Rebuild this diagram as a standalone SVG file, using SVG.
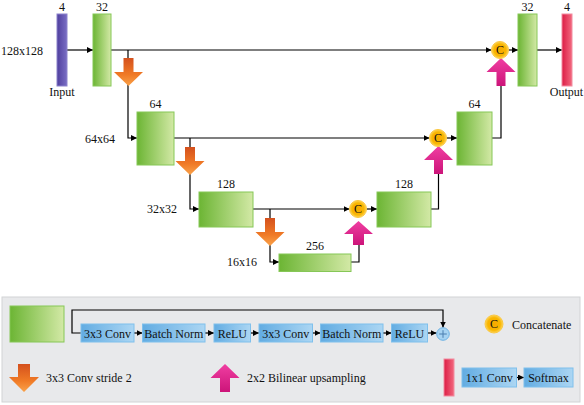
<svg xmlns="http://www.w3.org/2000/svg" width="584" height="405" viewBox="0 0 584 405" font-family="Liberation Serif, DejaVu Serif, Times New Roman, serif">
<defs>
<linearGradient id="gGreen" x1="0" y1="0" x2="1" y2="0">
<stop offset="0" stop-color="#6cb534"/><stop offset="1" stop-color="#d3e9a6"/>
</linearGradient>
<linearGradient id="gPurple" x1="0" y1="0" x2="1" y2="0">
<stop offset="0" stop-color="#4f3f9e"/><stop offset="1" stop-color="#7a6ec4"/>
</linearGradient>
<linearGradient id="gRed" x1="0" y1="0" x2="1" y2="0">
<stop offset="0" stop-color="#dc1d45"/><stop offset="1" stop-color="#f2697f"/>
</linearGradient>
<linearGradient id="gBlue" x1="0" y1="0" x2="1" y2="0">
<stop offset="0" stop-color="#62ace2"/><stop offset="1" stop-color="#acd6f3"/>
</linearGradient>
<linearGradient id="gOrange" x1="0" y1="0" x2="0" y2="1">
<stop offset="0" stop-color="#d4501d"/><stop offset="0.6" stop-color="#f07a26"/><stop offset="1" stop-color="#f9a24a"/>
</linearGradient>
<linearGradient id="gPink" x1="0" y1="0" x2="0" y2="1">
<stop offset="0" stop-color="#f03ea2"/><stop offset="1" stop-color="#cc1479"/>
</linearGradient>
<radialGradient id="gC" cx="0.5" cy="0.5" r="0.5">
<stop offset="0" stop-color="#f7a800"/><stop offset="0.7" stop-color="#f9b600"/><stop offset="1" stop-color="#fdd45a"/>
</radialGradient>
<marker id="ah" markerUnits="userSpaceOnUse" markerWidth="6" markerHeight="6" refX="6" refY="3" orient="auto">
<path d="M0,0 L6,3 L0,6 z" fill="#000"/>
</marker>
<path id="orangeArrow" d="M-5,0 H5 V14 H14.5 L0,28 L-14.5,14 H-5 Z"/>
<path id="pinkArrow" d="M0,0 L14.5,14 H4.5 V28 H-4.5 V14 H-14.5 Z"/>
</defs>
<style>
text{font-family:'Liberation Serif','DejaVu Serif','Times New Roman',serif;font-size:12px;fill:#111;}
.mid{text-anchor:middle;}
.end{text-anchor:end;}
.green{fill:url(#gGreen);stroke:#86c757;stroke-width:1;}
.blue{fill:url(#gBlue);stroke:#7fc0ec;stroke-width:1;}
.line{fill:none;stroke:#000;stroke-width:1.2;}
.arr{marker-end:url(#ah);}
.orange{fill:url(#gOrange);}
.pink{fill:url(#gPink);}
.cc{fill:url(#gC);stroke:#fbc840;stroke-width:1;}
</style>

<rect x="2" y="297" width="578" height="105" fill="#e8e9eb" stroke="#d2d3d5" stroke-width="1"/>

<g id="connectors">
<path class="line arr" d="M67,50 H93"/>
<path class="line arr" d="M111,50 H491.5"/>
<path class="line arr" d="M128,50 V138 H137"/>
<path class="line arr" d="M174,138 H429.5"/>
<path class="line arr" d="M190,138 V209 H199"/>
<path class="line arr" d="M253,209 H349.5"/>
<path class="line arr" d="M270,209 V262 H279"/>
<path class="line" d="M351,262 H359 V244"/>
<path class="line arr" d="M366.5,209 H377"/>
<path class="line" d="M431,209 H438.5 V174"/>
<path class="line arr" d="M446.5,138 H457"/>
<path class="line" d="M492,138 H501 V86"/>
<path class="line arr" d="M508.5,50 H518"/>
<path class="line arr" d="M537,50 H562"/>
<path class="line arr" d="M81,333 H72 V310 H443 V327.5"/>
<path class="line arr" d="M134,333 H142.5"/>
<path class="line arr" d="M205,333 H214"/>
<path class="line arr" d="M250.5,333 H259"/>
<path class="line arr" d="M312.5,333 H320.5"/>
<path class="line arr" d="M383,333 H391.5"/>
<path class="line arr" d="M427.5,333 H436.5"/>
<path class="line arr" d="M516.5,377.5 H524"/>
</g>

<g id="input">
<rect x="57" y="14" width="10" height="72" fill="url(#gPurple)" stroke="#8b82cc" stroke-width="1"/>
<text class="mid" x="62" y="11">4</text>
<text class="mid" x="62" y="96">Input</text>
<text x="1" y="55">128x128</text>
</g>
<g id="enc1">
<rect class="green" x="93" y="14" width="18" height="72"/>
<text class="mid" x="102" y="11">32</text>
</g>
<g id="down1"><use href="#orangeArrow" class="orange" x="128.5" y="58"/></g>
<g id="enc2">
<rect class="green" x="137" y="112" width="37" height="53"/>
<text class="mid" x="155.5" y="107.5">64</text>
<text class="end" x="115" y="142.5">64x64</text>
</g>
<g id="down2"><use href="#orangeArrow" class="orange" x="190" y="147"/></g>
<g id="enc3">
<rect class="green" x="199" y="192" width="54" height="35"/>
<text class="mid" x="226" y="187.5">128</text>
<text class="end" x="177" y="213">32x32</text>
</g>
<g id="down3"><use href="#orangeArrow" class="orange" x="270" y="218"/></g>
<g id="bottleneck">
<rect class="green" x="279" y="254" width="72" height="17.5"/>
<text class="mid" x="315" y="249.5">256</text>
<text class="end" x="257" y="266">16x16</text>
</g>
<g id="up3"><path class="pink" d="M358.5,221 L373,234 H364 V245 H353 V234 H344 Z"/></g>
<g id="cat3">
<circle class="cc" cx="358" cy="209" r="8.5"/>
<text class="mid" x="358" y="213.2">C</text>
</g>
<g id="dec3">
<rect class="green" x="377" y="192" width="54" height="35"/>
<text class="mid" x="404" y="187.5">128</text>
</g>
<g id="up2"><use href="#pinkArrow" class="pink" x="438.5" y="146"/></g>
<g id="cat2">
<circle class="cc" cx="438" cy="138" r="8.5"/>
<text class="mid" x="438" y="142.2">C</text>
</g>
<g id="dec2">
<rect class="green" x="457" y="112" width="35" height="53"/>
<text class="mid" x="474.5" y="107.5">64</text>
</g>
<g id="up1"><use href="#pinkArrow" class="pink" x="501" y="58"/></g>
<g id="cat1">
<circle class="cc" cx="500" cy="50" r="8.5"/>
<text class="mid" x="500" y="54.2">C</text>
</g>
<g id="dec1">
<rect class="green" x="518" y="14" width="19" height="72"/>
<text class="mid" x="527.5" y="11">32</text>
</g>
<g id="output">
<rect x="562" y="14" width="10" height="72" fill="url(#gRed)" stroke="#f28ca0" stroke-width="1"/>
<text class="mid" x="567" y="11">4</text>
<text class="mid" x="566.5" y="96">Output</text>
</g>

<g id="legend-block">
<rect class="green" x="10" y="306" width="54" height="36"/>
<rect class="blue" x="81" y="324" width="53" height="18"/>
<text class="mid" x="107.5" y="337.5">3x3 Conv</text>
<rect class="blue" x="142.5" y="324" width="62.5" height="18"/>
<text class="mid" x="173.8" y="337.5">Batch Norm</text>
<rect class="blue" x="214" y="324" width="36.5" height="18"/>
<text class="mid" x="232.3" y="337.5">ReLU</text>
<rect class="blue" x="259" y="324" width="53.5" height="18"/>
<text class="mid" x="285.8" y="337.5">3x3 Conv</text>
<rect class="blue" x="320.5" y="324" width="62.5" height="18"/>
<text class="mid" x="351.8" y="337.5">Batch Norm</text>
<rect class="blue" x="391.5" y="324" width="36" height="18"/>
<text class="mid" x="409.5" y="337.5">ReLU</text>
<circle cx="443" cy="334" r="6.3" fill="#a6d3f2" stroke="#6fb3e4" stroke-width="1"/>
<path d="M439.2,334 H446.8 M443,330.2 V337.8" stroke="#4a7fb0" stroke-width="1" fill="none"/>
</g>
<g id="legend-concat">
<circle class="cc" cx="494" cy="324" r="9"/>
<text class="mid" x="494" y="328.2">C</text>
<text x="512" y="329">Concatenate</text>
</g>
<g id="legend-down">
<path class="orange" d="M18,364 H30 V377 H39 L24,392 L9,377 H18 Z"/>
<text x="46" y="381.5">3x3 Conv stride 2</text>
</g>
<g id="legend-up">
<path class="pink" d="M225,364 L239.5,378 H230 V392 H220 V378 H210.5 Z"/>
<text x="247" y="381.5">2x2 Bilinear upsampling</text>
</g>
<g id="legend-output">
<rect x="444" y="359" width="10" height="37" fill="url(#gRed)" stroke="#f28ca0" stroke-width="1"/>
<rect class="blue" x="462" y="368" width="54.5" height="19"/>
<text class="mid" x="489.3" y="381.5">1x1 Conv</text>
<rect class="blue" x="524" y="368" width="49" height="19"/>
<text class="mid" x="548.5" y="381.5">Softmax</text>
</g>
</svg>
